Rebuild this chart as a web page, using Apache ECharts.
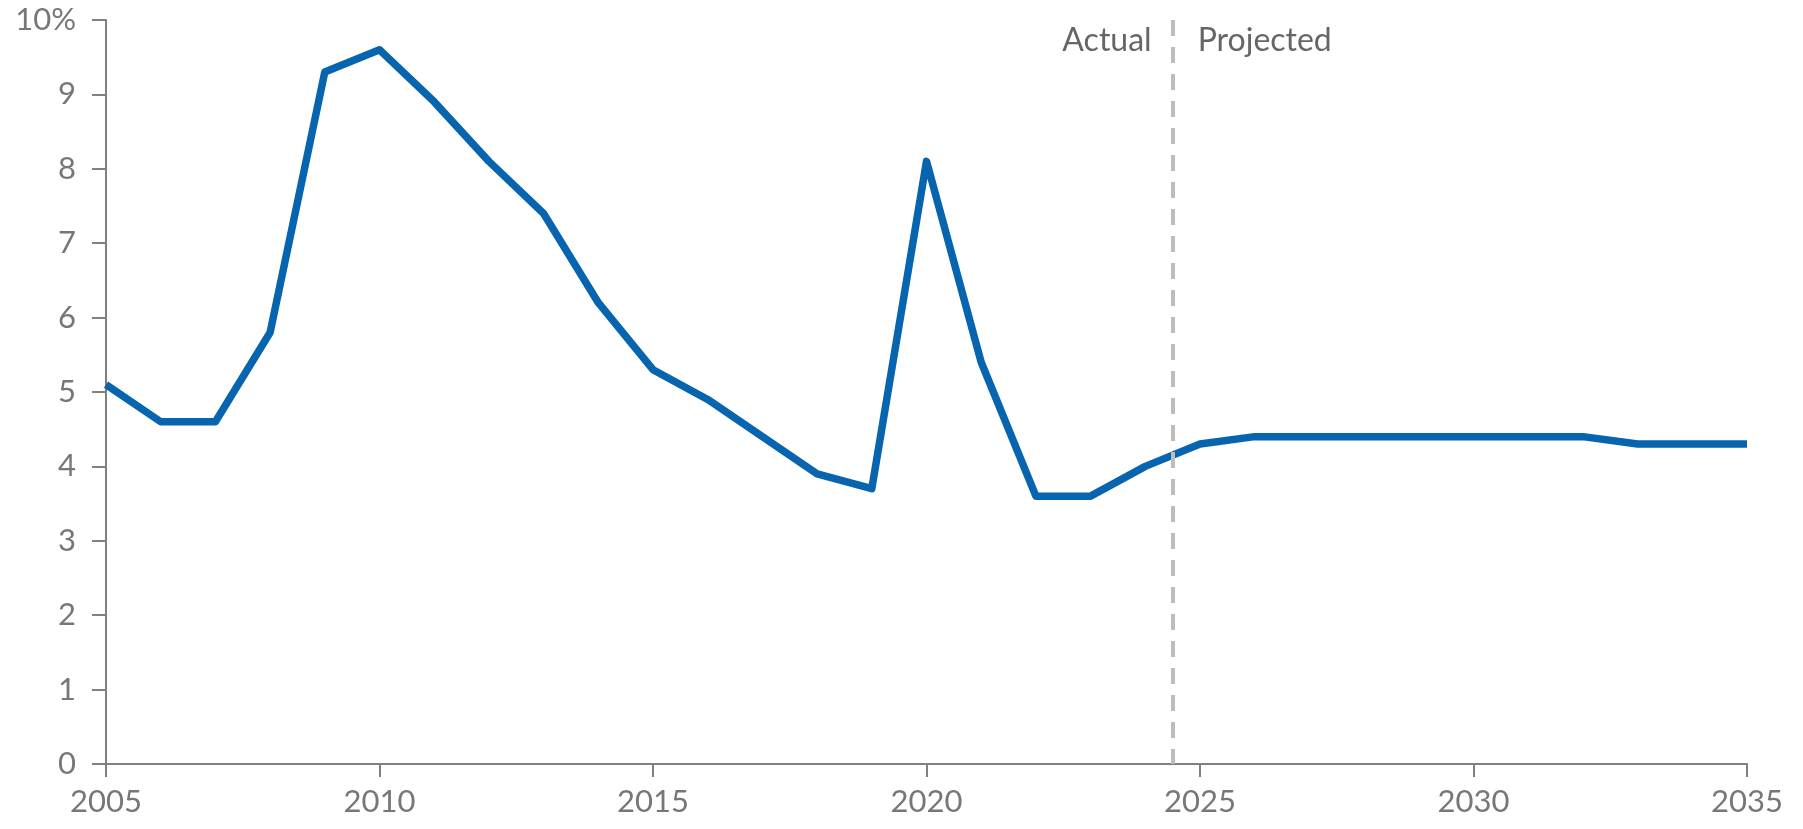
<!DOCTYPE html>
<html>
<head>
<meta charset="utf-8">
<script src="https://cdn.jsdelivr.net/npm/echarts@6/dist/echarts.min.js"></script>
<style>
  html, body { margin: 0; padding: 0; background: #fff; }
  #chart { width: 1803px; height: 829px; }
</style>
</head>
<body>
<div id="chart"></div>
<script>
const years = [2005, 2006, 2007, 2008, 2009, 2010, 2011, 2012, 2013, 2014, 2015,
  2016, 2017, 2018, 2019, 2020, 2021, 2022, 2023, 2024, 2025, 2026, 2027, 2028,
  2029, 2030, 2031, 2032, 2033, 2034, 2035]
const rates = [5.1, 4.6, 4.6, 5.8, 9.3, 9.6, 8.9, 8.1, 7.4, 6.2, 5.3,
  4.9, 4.4, 3.9, 3.7, 8.1, 5.4, 3.6, 3.6, 4.0, 4.3, 4.4, 4.4, 4.4,
  4.4, 4.4, 4.4, 4.4, 4.3, 4.3, 4.3]
const splitYear = 2024.5
const labelLeft = 'Actual'
const labelRight = 'Projected'

const axisGray = '#808080'
const font = 'Lato, "Noto Sans", sans-serif'

const chart = echarts.init(document.getElementById('chart'))

chart.setOption({
  animation: false,
  backgroundColor: '#fff',
  grid: { left: 106, right: 56, top: 20, bottom: 65 },
  xAxis: {
    type: 'value',
    min: 2005,
    max: 2035,
    interval: 5,
    axisLine: { show: true, lineStyle: { color: axisGray, width: 2 } },
    axisTick: { show: true, length: 13, lineStyle: { color: axisGray, width: 2 } },
    axisLabel: { color: '#777', fontSize: 31, fontFamily: font, margin: 22, formatter: v => String(v) },
    splitLine: { show: false }
  },
  yAxis: {
    type: 'value',
    min: 0,
    max: 10,
    interval: 1,
    axisLine: { show: true, lineStyle: { color: axisGray, width: 2 } },
    axisTick: { show: true, length: 14, lineStyle: { color: axisGray, width: 2 } },
    axisLabel: {
      color: '#777', fontSize: 31, fontFamily: font, margin: 30,
      formatter: v => v === 10 ? '10%' : String(v)
    },
    splitLine: { show: false }
  },
  series: [{
    type: 'line',
    data: years.map((y, i) => [y, rates[i]]),
    showSymbol: false,
    lineStyle: { color: '#0765b0', width: 7.5, join: 'round' },
    itemStyle: { color: '#0765b0' },
    z: 3,
    markLine: {
      silent: true,
      symbol: 'none',
      label: { show: false },
      lineStyle: { color: '#bdbdbd', width: 4, type: [16, 11] },
      data: [[{ coord: [splitYear, 10] }, { coord: [splitYear, 0] }]],
      z: 4
    },
    markPoint: {
      silent: true,
      symbol: 'circle',
      symbolSize: 0,
      data: [
        { coord: [splitYear, 9.72], label: { show: true, position: 'left', distance: 21, formatter: labelLeft } },
        { coord: [splitYear, 9.72], label: { show: true, position: 'right', distance: 25, formatter: labelRight } }
      ],
      label: { color: '#666', fontSize: 32, fontFamily: font }
    }
  }]
})
</script>
</body>
</html>
